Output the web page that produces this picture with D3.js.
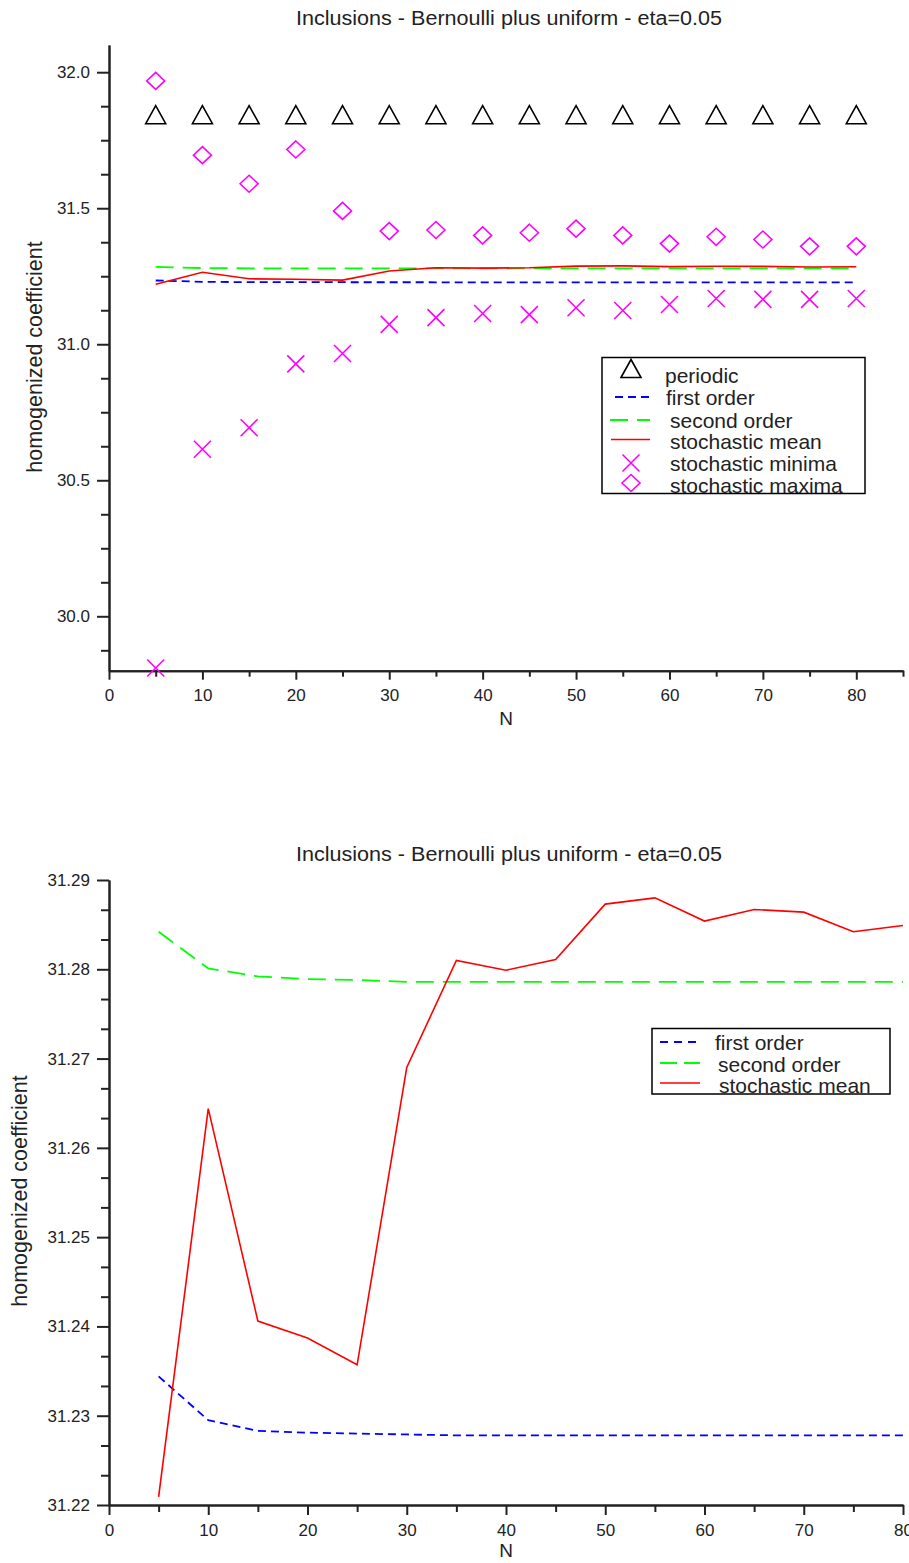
<!DOCTYPE html>
<html><head><meta charset="utf-8">
<script src="https://cdn.jsdelivr.net/npm/d3@7"></script>
<style>
html,body{margin:0;padding:0;background:#fff;}
svg text{font-family:"Liberation Sans",Arial,sans-serif;fill:#222;}
</style></head>
<body>
<svg id="chart" width="909" height="1563"></svg>
<script>
// ---------- data ----------
const titleText = "Inclusions - Bernoulli plus uniform - eta=0.05";
const N = [5,10,15,20,25,30,35,40,45,50,55,60,65,70,75,80];
const periodic    = [31.842,31.842,31.842,31.842,31.842,31.842,31.842,31.842,31.842,31.842,31.842,31.842,31.842,31.842,31.842,31.842];
const firstOrder  = [31.2344,31.2295,31.2283,31.2281,31.2280,31.2279,31.2278,31.2278,31.2278,31.2278,31.2278,31.2278,31.2278,31.2278,31.2278,31.2278];
const secondOrder = [31.2842,31.2801,31.2792,31.2789,31.2788,31.2786,31.2786,31.2786,31.2786,31.2786,31.2786,31.2786,31.2786,31.2786,31.2786,31.2786];
const stochMean   = [31.2209,31.2644,31.2406,31.2387,31.2357,31.2690,31.2810,31.2799,31.2811,31.2873,31.2880,31.2854,31.2867,31.2864,31.2842,31.2849];
const stochMin    = [29.81,30.614,30.693,30.928,30.966,31.073,31.098,31.113,31.109,31.134,31.124,31.146,31.168,31.165,31.165,31.168];
const stochMax    = [31.968,31.695,31.590,31.716,31.490,31.416,31.420,31.400,31.410,31.425,31.400,31.370,31.395,31.385,31.360,31.360];

const xMajor = [0,10,20,30,40,50,60,70,80];
const xMinorTop = [5,15,25,35,45,55,65,75,85];
const xMinorBot = [5,15,25,35,45,55,65,75];
const yMajorTop = [30.0,30.5,31.0,31.5,32.0];
const yMajorBot = [31.22,31.23,31.24,31.25,31.26,31.27,31.28,31.29];

const legendTop = ["periodic","first order","second order","stochastic mean","stochastic minima","stochastic maxima"];
const legendBot = ["first order","second order","stochastic mean"];

// ---------- helpers ----------
const svg = d3.select("#chart");
const AX = "#222";

function styleAxis(g){
  g.selectAll("path.domain").attr("stroke",AX).attr("stroke-width",2);
  g.selectAll(".tick line").attr("stroke",AX).attr("stroke-width",2);
  g.selectAll(".tick text").attr("fill",AX).style("font-family",'"Liberation Sans",Arial,sans-serif').style("font-size","17px");
}

function drawPanel(opt){
  const x = d3.scaleLinear().domain(opt.xDomain).range(opt.xRange);
  const y = d3.scaleLinear().domain(opt.yDomain).range(opt.yRange);
  const g = svg.append("g");

  g.append("g").attr("transform",`translate(0,${opt.yRange[0]})`)
    .call(d3.axisBottom(x).tickValues(opt.xMinor).tickSize(opt.xMinorLen).tickSizeOuter(0).tickFormat(""))
    .call(styleAxis);
  g.append("g").attr("transform",`translate(${opt.xRange[0]},0)`)
    .call(d3.axisLeft(y).tickValues(opt.yMinor).tickSize(8).tickSizeOuter(0).tickFormat(""))
    .call(styleAxis);
  g.append("g").attr("transform",`translate(0,${opt.yRange[0]})`)
    .call(d3.axisBottom(x).tickValues(xMajor).tickSize(opt.xMajorLen).tickPadding(opt.xPad).tickSizeOuter(0).tickFormat(d3.format("d")))
    .call(styleAxis);
  g.append("g").attr("transform",`translate(${opt.xRange[0]},0)`)
    .call(d3.axisLeft(y).tickValues(opt.yMajor).tickSize(12).tickPadding(7).tickSizeOuter(0).tickFormat(d3.format(opt.yFmt)))
    .call(styleAxis);

  g.append("text").attr("x",509).attr("y",opt.titleY).attr("text-anchor","middle")
    .style("font-size","20px").attr("textLength",426).attr("lengthAdjust","spacingAndGlyphs").text(titleText);
  g.append("text").attr("x",506).attr("y",opt.nY).attr("text-anchor","middle").style("font-size","19px").text("N");
  g.append("text").attr("transform",`translate(${opt.ylabX},${opt.ylabY}) rotate(-90)`)
    .attr("text-anchor","middle").style("font-size","21.5px").text("homogenized coefficient");

  return {g,x,y};
}

function linePath(x,y,vals){
  return d3.line().x((d,i)=>x(N[i])).y(d=>y(d))(vals);
}
const seriesStyle = {
  first:  {stroke:"#0000ff", dash:"8,5",  w:1.8},
  second: {stroke:"#00ff00", dash:"18,9", w:1.8},
  mean:   {stroke:"#ff0000", dash:null,   w:1.6}
};
function drawLine(g,x,y,vals,s){
  g.append("path").attr("d",linePath(x,y,vals)).attr("fill","none")
   .attr("stroke",s.stroke).attr("stroke-width",s.w).attr("stroke-dasharray",s.dash);
}
function triangle(g,cx,cy){
  g.append("path").attr("d",`M${cx},${cy-9.5} L${cx+10},${cy+8.5} L${cx-10},${cy+8.5} Z`)
   .attr("fill","none").attr("stroke","#000").attr("stroke-width",1.6);
}
function cross(g,cx,cy){
  g.append("path").attr("d",`M${cx-8.5},${cy-8.5} L${cx+8.5},${cy+8.5} M${cx-8.5},${cy+8.5} L${cx+8.5},${cy-8.5}`)
   .attr("fill","none").attr("stroke","#ff00ff").attr("stroke-width",1.6);
}
function diamond(g,cx,cy){
  g.append("path").attr("d",`M${cx},${cy-8.5} L${cx+9},${cy} L${cx},${cy+8.5} L${cx-9},${cy} Z`)
   .attr("fill","none").attr("stroke","#ff00ff").attr("stroke-width",1.6);
}

// ---------- top panel ----------
const yMinorTop = d3.range(0,19).map(i=>+(29.875+i*0.125).toFixed(3)).filter(v=>v<=32.1 && yMajorTop.indexOf(v)<0);
const panelTop = drawPanel({
  xDomain:[0,85], xRange:[109,903], yDomain:[29.8,32.1], yRange:[670.7,45],
  xMinor:xMinorTop, yMinor:yMinorTop, yMajor:yMajorTop, yFmt:".1f",
  xMajorLen:9, xMinorLen:6, xPad:9,
  titleY:25, nY:725, ylabX:42, ylabY:357
});
{
  const {g,x,y} = panelTop;
  drawLine(g,x,y,secondOrder,seriesStyle.second);
  drawLine(g,x,y,firstOrder,seriesStyle.first);
  drawLine(g,x,y,stochMean,seriesStyle.mean);
  N.forEach((n,i)=>{
    triangle(g,x(n),y(periodic[i]));
    cross(g,x(n),y(stochMin[i]));
    diamond(g,x(n),y(stochMax[i]));
  });
  const lg = g.append("g");
  lg.append("rect").attr("x",602).attr("y",357.5).attr("width",263).attr("height",136)
    .attr("fill","#fff").attr("stroke","#000").attr("stroke-width",1.5);
  const ys = [375,397,420,441,463,485];
  const tx = [665,666,670,670,670,670];
  triangle(lg,631,ys[0]-6);
  lg.append("line").attr("x1",612).attr("x2",650).attr("y1",ys[1]).attr("y2",ys[1]).attr("stroke","#0000ff").attr("stroke-width",1.8).attr("stroke-dasharray","8,5").attr("stroke-dashoffset",-3);
  lg.append("line").attr("x1",610).attr("x2",650).attr("y1",ys[2]).attr("y2",ys[2]).attr("stroke","#00ff00").attr("stroke-width",1.8).attr("stroke-dasharray","18,9");
  lg.append("line").attr("x1",611).attr("x2",650).attr("y1",ys[3]-1.5).attr("y2",ys[3]-1.5).attr("stroke","#ff0000").attr("stroke-width",1.6);
  cross(lg,631,ys[4]);
  diamond(lg,631,ys[5]-2);
  legendTop.forEach((t,i)=>{
    lg.append("text").attr("x",tx[i]).attr("y",ys[i]+7.5).style("font-size","21px").text(t);
  });
}

// ---------- bottom panel ----------
const yMinorBot = d3.range(0,22).map(i=>31.22+i*0.01/3).filter((v,i)=>i%3!==0);
const panelBot = drawPanel({
  xDomain:[0,80], xRange:[109,903], yDomain:[31.22,31.29], yRange:[1505,880],
  xMinor:xMinorBot, yMinor:yMinorBot, yMajor:yMajorBot, yFmt:".2f",
  xMajorLen:10, xMinorLen:7, xPad:9,
  titleY:861, nY:1557, ylabX:27, ylabY:1191
});
{
  const {g,x,y} = panelBot;
  drawLine(g,x,y,firstOrder,seriesStyle.first);
  drawLine(g,x,y,secondOrder,seriesStyle.second);
  drawLine(g,x,y,stochMean,seriesStyle.mean);
  const lg = g.append("g");
  lg.append("rect").attr("x",652).attr("y",1028.5).attr("width",238).attr("height",65.5)
    .attr("fill","#fff").attr("stroke","#000").attr("stroke-width",1.5);
  const ys = [1042,1064,1085];
  const tx = [715,718,719];
  lg.append("line").attr("x1",660).attr("x2",697).attr("y1",ys[0]).attr("y2",ys[0]).attr("stroke","#0000ff").attr("stroke-width",1.8).attr("stroke-dasharray","8,6");
  lg.append("line").attr("x1",660).attr("x2",700).attr("y1",ys[1]-1).attr("y2",ys[1]-1).attr("stroke","#00ff00").attr("stroke-width",1.8).attr("stroke-dasharray","17,7");
  lg.append("line").attr("x1",660).attr("x2",700).attr("y1",ys[2]-2).attr("y2",ys[2]-2).attr("stroke","#ff0000").attr("stroke-width",1.6);
  legendBot.forEach((t,i)=>{
    lg.append("text").attr("x",tx[i]).attr("y",ys[i]+7.5).style("font-size","21px").text(t);
  });
}
</script>
</body></html>
